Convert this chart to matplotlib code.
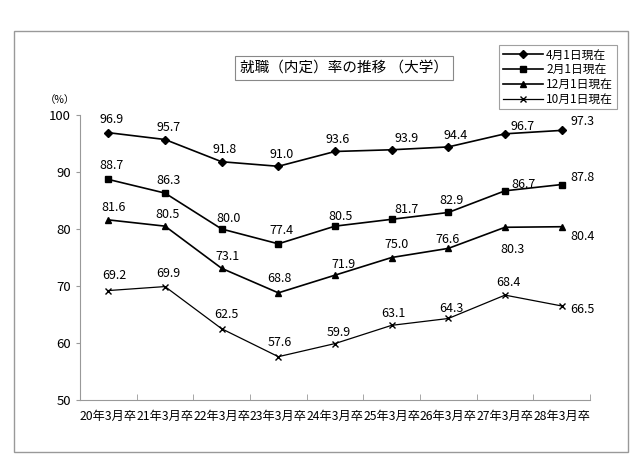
import matplotlib
matplotlib.use("Agg")
import matplotlib.pyplot as plt
from matplotlib.patches import Rectangle
import numpy as np

plt.rcParams['font.family'] = ['Noto Sans CJK JP', 'DejaVu Sans']

categories = ['20年3月卒', '21年3月卒', '22年3月卒', '23年3月卒', '24年3月卒',
              '25年3月卒', '26年3月卒', '27年3月卒', '28年3月卒']
series_names = ['4月1日現在', '2月1日現在', '12月1日現在', '10月1日現在']
apr = [96.9, 95.7, 91.8, 91.0, 93.6, 93.9, 94.4, 96.7, 97.3]
feb = [88.7, 86.3, 80.0, 77.4, 80.5, 81.7, 82.9, 86.7, 87.8]
dec = [81.6, 80.5, 73.1, 68.8, 71.9, 75.0, 76.6, 80.3, 80.4]
oct_ = [69.2, 69.9, 62.5, 57.6, 59.9, 63.1, 64.3, 68.4, 66.5]

# label offsets in pixels (dx, dy) per series
offsets = [
    [(3, 13), (4, 12), (3, 12), (3, 12), (3, 12), (15, 11), (7, 11), (18, 7), (21, 9)],
    [(3, 14), (4, 13), (7, 11), (3, 13), (6, 10), (15, 10), (3, 12), (18, 6), (21, 7)],
    [(5, 12), (3, 12), (6, 12), (1, 14), (8, 11), (5, 13), (-1, 9), (8, -22), (21, -10)],
    [(6, 15), (3, 13), (5, 14), (1, 14), (4, 11), (2, 12), (3, 10), (3, 13), (21, -4)],
]
markers = [('D', 4.0), ('s', 5.0), ('^', 5.0), ('x', 5.0)]
widths = [1.2, 1.2, 1.2, 0.9]

fig = plt.figure(figsize=(6.4, 4.62), dpi=100)
ax = fig.add_axes([80 / 640, 1 - 400 / 462, 510 / 640, 285 / 462])

x = np.arange(len(categories))
for vals, name, (m, ms), lw, offs in zip([apr, feb, dec, oct_], series_names, markers, widths, offsets):
    ax.plot(x, vals, color='black', lw=lw, marker=m, ms=ms, mew=1.0, label=name)
    for xi, v, (dx, dy) in zip(x, vals, offs):
        ax.annotate(f'{v:.1f}', (xi, v), xytext=(dx, dy), textcoords='offset pixels',
                    ha='center', va='center', fontsize=9)

ax.set_xlim(-0.5, len(categories) - 0.5)
ax.set_ylim(50, 100)
ax.set_yticks(range(50, 101, 10))
ax.set_xticks(x)
ax.set_xticklabels(categories, fontsize=8.8)
ax.set_xticks(np.arange(-0.5, len(categories), 1), minor=True)
ax.tick_params(axis='x', which='major', length=0, pad=7)
ax.tick_params(axis='x', which='minor', direction='in', length=4, color='#999999')
ax.tick_params(axis='y', direction='out', length=3, color='#999999', labelsize=9.5)
for s in ['top', 'right']:
    ax.spines[s].set_visible(False)
for s in ['left', 'bottom']:
    ax.spines[s].set_color('#999999')

fig.text(60 / 640, 1 - 100 / 462, '（%）', fontsize=7.5, ha='center', va='center')

leg = fig.legend(loc='upper left', bbox_to_anchor=(499 / 640, 1 - 45 / 462), fontsize=8.5,
                 frameon=True, fancybox=False, edgecolor='#888888', handlelength=3.4,
                 borderpad=0.3, labelspacing=0.15, handletextpad=0.3, borderaxespad=0)
leg.get_frame().set_linewidth(0.8)

fig.text(344 / 640, 1 - 68 / 462, '就職（内定）率の推移 （大学）', fontsize=10.5, ha='center',
         va='center', bbox=dict(boxstyle='square,pad=0.35', fc='white', ec='#888888', lw=0.8))

fig.patches.append(Rectangle((14 / 640, 1 - 452 / 462), 614 / 640, 421 / 462,
                             transform=fig.transFigure, fill=False, ec='#999999', lw=1.0))

fig.savefig('out.png', dpi=100)
